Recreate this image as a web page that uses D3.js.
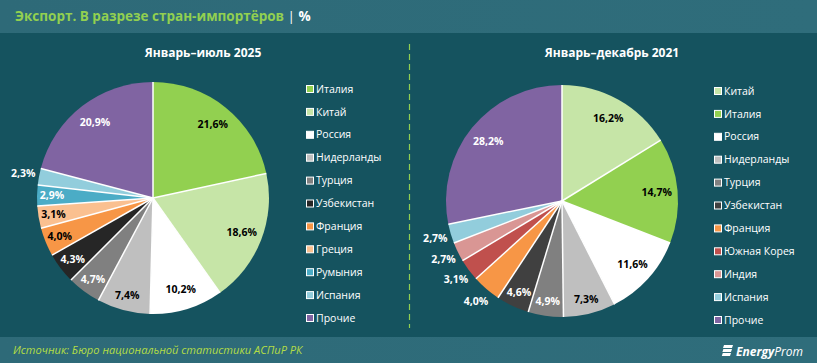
<!DOCTYPE html>
<html>
<head>
<meta charset="utf-8">
<script src="https://cdn.jsdelivr.net/npm/d3@7"></script>
<style>
  html, body { margin: 0; padding: 0; background: #15535f; }
  svg { display: block; }
  text { font-family: "Open Sans", "Noto Sans", sans-serif; }
</style>
</head>
<body>
<div id="chart"></div>
<script>
'use strict';

// data
var leftCategories = ['Италия', 'Китай', 'Россия', 'Нидерланды', 'Турция', 'Узбекистан',
  'Франция', 'Греция', 'Румыния', 'Испания', 'Прочие'];
var leftValues = [21.6, 18.6, 10.2, 7.4, 4.7, 4.3, 4.0, 3.1, 2.9, 2.3, 20.9];

var rightCategories = ['Китай', 'Италия', 'Россия', 'Нидерланды', 'Турция', 'Узбекистан',
  'Франция', 'Южная Корея', 'Индия', 'Испания', 'Прочие'];
var rightValues = [16.2, 14.7, 11.6, 7.3, 4.9, 4.6, 4.0, 3.1, 2.7, 2.7, 28.2];

var leftTitle = 'Январь–июль 2025';
var rightTitle = 'Январь–декабрь 2021';

var leftColors = ['#92d050', '#c6e5a7', '#ffffff', '#bfbfbf', '#808080', '#262626',
  '#f79646', '#fac090', '#4bacc6', '#92cddc', '#8064a2'];
var rightColors = ['#c6e5a7', '#92d050', '#ffffff', '#bfbfbf', '#808080', '#404040',
  '#f79646', '#c0504d', '#d99694', '#92cddc', '#8064a2'];

var width = 817, height = 363;
var radius = 116;

var svg = d3.select('#chart').append('svg')
  .attr('width', width)
  .attr('height', height);

var defs = svg.append('defs');
var band = defs.append('linearGradient').attr('id', 'band');
band.append('stop').attr('offset', '0%').attr('stop-color', '#2e6a78');
band.append('stop').attr('offset', '100%').attr('stop-color', '#2f6d7b');

svg.append('rect').attr('width', width).attr('height', height).attr('fill', '#15535f');
svg.append('rect').attr('width', width).attr('height', 33).attr('fill', 'url(#band)');
svg.append('rect').attr('y', 337).attr('width', width).attr('height', 26).attr('fill', 'url(#band)');

// header
var title = svg.append('text')
  .attr('x', 15)
  .attr('y', 21)
  .style('font-size', '13.5px')
  .style('font-weight', 'bold');
title.append('tspan').attr('fill', '#92d050').text('Экспорт. В разрезе стран-импортёров');
title.append('tspan').attr('fill', '#ffffff').style('font-weight', 'normal').text(' | ');
title.append('tspan').attr('fill', '#ffffff').text('%');

// footer
svg.append('text')
  .attr('x', 13)
  .attr('y', 354)
  .attr('fill', '#b4dd45')
  .style('font-size', '11.1px')
  .style('font-style', 'italic')
  .text('Источник: Бюро национальной статистики АСПиР РК');

var logo = svg.append('g').attr('transform', 'translate(722,345)');
[0, 4, 8].forEach(function(dy, i) {
  logo.append('path')
    .attr('d', 'M' + (2 - i * 0.6) + ',' + dy + ' h' + (9 - i * 0.4) + ' l-1,3 h-' + (9 - i * 0.4) + ' z')
    .attr('fill', '#ffffff');
});
var logoText = svg.append('text')
  .attr('x', 736)
  .attr('y', 356)
  .attr('fill', '#ffffff')
  .style('font-size', '12px')
  .style('font-style', 'italic');
logoText.append('tspan').style('font-weight', 'bold').text('Energy');
logoText.append('tspan').text('Prom');

// divider
svg.append('line')
  .attr('x1', 409.5).attr('x2', 409.5)
  .attr('y1', 44).attr('y2', 328)
  .attr('stroke', '#92d050')
  .attr('stroke-width', 1.2)
  .attr('stroke-dasharray', '6,4');

function drawPie(opts) {
  var data = opts.values.map(function(v, i) {
    return { name: opts.categories[i], value: v, color: opts.colors[i] };
  });

  svg.append('text')
    .attr('x', opts.titleX)
    .attr('y', 57)
    .attr('text-anchor', 'middle')
    .attr('fill', '#ffffff')
    .style('font-size', '12px')
    .style('font-weight', 'bold')
    .text(opts.title);

  var pie = d3.pie()
    .sort(null)
    .value(function(d) { return d.value; });
  var arcs = pie(data);

  var arc = d3.arc().innerRadius(0).outerRadius(radius);
  var innerLabelArc = d3.arc().innerRadius(radius * 0.82).outerRadius(radius * 0.82);
  var smallLabelArc = d3.arc().innerRadius(radius * 0.87).outerRadius(radius * 0.87);
  var outerLabelArc = d3.arc().innerRadius(radius + 16).outerRadius(radius + 16);

  var g = svg.append('g')
    .attr('transform', 'translate(' + opts.cx + ',' + opts.cy + ')');

  g.selectAll('.slice')
    .data(arcs)
    .enter()
    .append('path')
    .attr('class', 'slice')
    .attr('d', arc)
    .attr('fill', function(d) { return d.data.color; });

  // white separators between slices
  g.selectAll('.sep')
    .data(arcs)
    .enter()
    .append('line')
    .attr('class', 'sep')
    .attr('x1', 0).attr('y1', 0)
    .attr('x2', function(d) { return Math.sin(d.startAngle) * radius; })
    .attr('y2', function(d) { return -Math.cos(d.startAngle) * radius; })
    .attr('stroke', '#ffffff')
    .attr('stroke-width', 1.5);

  g.selectAll('.lbl')
    .data(arcs)
    .enter()
    .append('text')
    .attr('class', 'lbl')
    .attr('transform', function(d) {
      var a;
      if (d.data.value < opts.outsideBelow) a = outerLabelArc;
      else if (d.data.value >= 10) a = innerLabelArc;
      else a = smallLabelArc;
      return 'translate(' + a.centroid(d) + ')';
    })
    .attr('text-anchor', 'middle')
    .attr('dy', '0.35em')
    .attr('fill', function(d) {
      if (d.data.value < opts.outsideBelow) return '#ffffff';
      return d3.hsl(d.data.color).l < 0.55 ? '#ffffff' : '#000000';
    })
    .style('font-size', '10.5px')
    .style('font-weight', 'bold')
    .text(function(d) { return d3.format('.1f')(d.data.value).replace('.', ',') + '%'; });

  var legend = svg.append('g')
    .attr('transform', 'translate(' + opts.legendX + ',' + opts.legendY + ')');

  var item = legend.selectAll('.item')
    .data(data)
    .enter()
    .append('g')
    .attr('class', 'item')
    .attr('transform', function(d, i) { return 'translate(0,' + (i * 22.9) + ')'; });

  item.append('rect')
    .attr('x', 0.5).attr('y', -3.5)
    .attr('width', 7).attr('height', 7)
    .attr('fill', function(d) { return d.color; })
    .attr('stroke', '#ffffff')
    .attr('stroke-width', 1);

  item.append('text')
    .attr('x', 10)
    .attr('dy', '0.35em')
    .attr('fill', '#ffffff')
    .style('font-size', '10.5px')
    .text(function(d) { return d.name; });
}

drawPie({
  categories: leftCategories,
  values: leftValues,
  colors: leftColors,
  title: leftTitle,
  titleX: 203,
  cx: 153, cy: 198,
  outsideBelow: 2.5,
  legendX: 306, legendY: 89
});

drawPie({
  categories: rightCategories,
  values: rightValues,
  colors: rightColors,
  title: rightTitle,
  titleX: 612,
  cx: 562, cy: 201,
  outsideBelow: 4.5,
  legendX: 714, legendY: 91
});
</script>
</body>
</html>
